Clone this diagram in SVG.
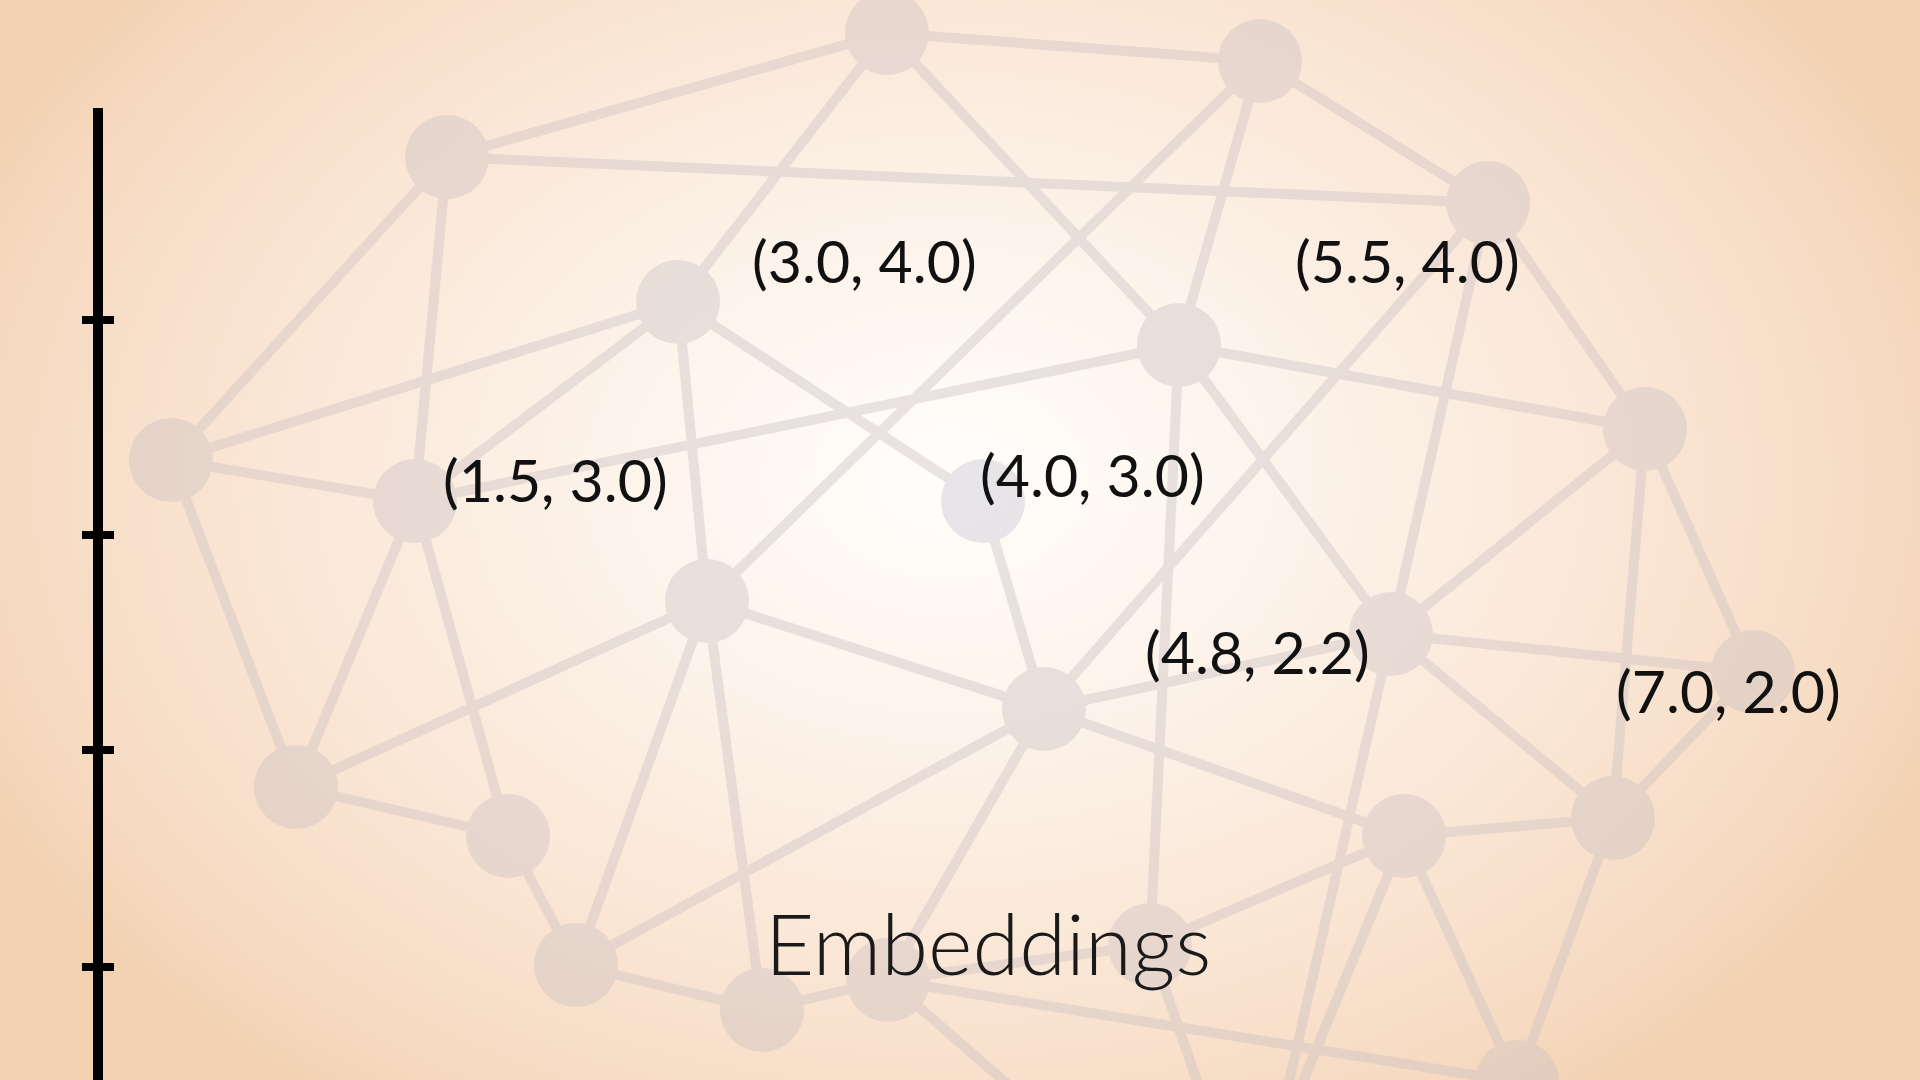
<svg xmlns="http://www.w3.org/2000/svg" width="1920" height="1080" viewBox="0 0 1920 1080">
<defs>
<radialGradient id="bg" gradientUnits="userSpaceOnUse" cx="0" cy="0" r="1060" gradientTransform="translate(950 480) scale(1 0.72)">
<stop offset="0" stop-color="#fffefc"/>
<stop offset="0.3" stop-color="#fdf4ec"/>
<stop offset="0.65" stop-color="#fae6d5"/>
<stop offset="0.9" stop-color="#f6dac1"/>
<stop offset="1" stop-color="#f3d2b3"/>
</radialGradient>
<style>
.edge{stroke:#cdc2c4;stroke-width:10;stroke-linecap:butt;fill:none}
.node circle{fill:#cdc2c4}
.lbl{font-family:Lato,"Open Sans","Liberation Sans",sans-serif;font-size:59px;fill:#111}
.title{font-family:Lato,"Open Sans","Liberation Sans",sans-serif;font-weight:300;font-size:85px;fill:#1a1a1a}
.axis{stroke:#000;fill:none}
</style>
</defs>
<rect x="0" y="0" width="1920" height="1080" fill="url(#bg)"/>
<g id="network" opacity="0.42">
<g id="connectors">
<line class="edge" x1="887" y1="33" x2="447" y2="157"/>
<line class="edge" x1="887" y1="33" x2="1260" y2="61"/>
<line class="edge" x1="887" y1="33" x2="678" y2="302"/>
<line class="edge" x1="887" y1="33" x2="1179" y2="345"/>
<line class="edge" x1="1260" y1="61" x2="1488" y2="203"/>
<line class="edge" x1="1260" y1="61" x2="1179" y2="345"/>
<line class="edge" x1="1260" y1="61" x2="707" y2="601"/>
<line class="edge" x1="447" y1="157" x2="1488" y2="203"/>
<line class="edge" x1="447" y1="157" x2="171" y2="460"/>
<line class="edge" x1="447" y1="157" x2="415" y2="501"/>
<line class="edge" x1="1488" y1="203" x2="1645" y2="429"/>
<line class="edge" x1="1488" y1="203" x2="1391" y2="634"/>
<line class="edge" x1="1488" y1="203" x2="1044" y2="709"/>
<line class="edge" x1="678" y1="302" x2="171" y2="460"/>
<line class="edge" x1="678" y1="302" x2="415" y2="501"/>
<line class="edge" x1="678" y1="302" x2="707" y2="601"/>
<line class="edge" x1="678" y1="302" x2="983" y2="501"/>
<line class="edge" x1="1179" y1="345" x2="415" y2="501"/>
<line class="edge" x1="1179" y1="345" x2="1645" y2="429"/>
<line class="edge" x1="1179" y1="345" x2="1391" y2="634"/>
<line class="edge" x1="1179" y1="345" x2="1150" y2="945"/>
<line class="edge" x1="171" y1="460" x2="415" y2="501"/>
<line class="edge" x1="171" y1="460" x2="296" y2="787"/>
<line class="edge" x1="415" y1="501" x2="296" y2="787"/>
<line class="edge" x1="415" y1="501" x2="508" y2="836"/>
<line class="edge" x1="983" y1="501" x2="1044" y2="709"/>
<line class="edge" x1="1645" y1="429" x2="1391" y2="634"/>
<line class="edge" x1="1645" y1="429" x2="1613" y2="818"/>
<line class="edge" x1="1645" y1="429" x2="1753" y2="672"/>
<line class="edge" x1="707" y1="601" x2="1044" y2="709"/>
<line class="edge" x1="707" y1="601" x2="296" y2="787"/>
<line class="edge" x1="707" y1="601" x2="576" y2="965"/>
<line class="edge" x1="707" y1="601" x2="762" y2="1010"/>
<line class="edge" x1="1391" y1="634" x2="1753" y2="672"/>
<line class="edge" x1="1391" y1="634" x2="1613" y2="818"/>
<line class="edge" x1="1391" y1="634" x2="1044" y2="709"/>
<line class="edge" x1="1391" y1="634" x2="1278" y2="1130"/>
<line class="edge" x1="1753" y1="672" x2="1613" y2="818"/>
<line class="edge" x1="1044" y1="709" x2="576" y2="965"/>
<line class="edge" x1="1044" y1="709" x2="888" y2="980"/>
<line class="edge" x1="1044" y1="709" x2="1404" y2="836"/>
<line class="edge" x1="296" y1="787" x2="508" y2="836"/>
<line class="edge" x1="508" y1="836" x2="576" y2="965"/>
<line class="edge" x1="1404" y1="836" x2="1613" y2="818"/>
<line class="edge" x1="1404" y1="836" x2="1150" y2="945"/>
<line class="edge" x1="1404" y1="836" x2="1517" y2="1082"/>
<line class="edge" x1="1404" y1="836" x2="1283" y2="1130"/>
<line class="edge" x1="1613" y1="818" x2="1517" y2="1082"/>
<line class="edge" x1="576" y1="965" x2="762" y2="1010"/>
<line class="edge" x1="762" y1="1010" x2="888" y2="980"/>
<line class="edge" x1="888" y1="980" x2="1150" y2="945"/>
<line class="edge" x1="888" y1="980" x2="1517" y2="1082"/>
<line class="edge" x1="888" y1="980" x2="1060" y2="1130"/>
<line class="edge" x1="1150" y1="945" x2="1214" y2="1130"/>
</g>
<g id="node-a" class="node"><circle cx="887" cy="33" r="42"/></g>
<g id="node-b" class="node"><circle cx="1260" cy="61" r="42"/></g>
<g id="node-c" class="node"><circle cx="447" cy="157" r="42"/></g>
<g id="node-d" class="node"><circle cx="1488" cy="203" r="42"/></g>
<g id="node-e" class="node"><circle cx="678" cy="302" r="42"/></g>
<g id="node-f" class="node"><circle cx="1179" cy="345" r="42"/></g>
<g id="node-g" class="node"><circle cx="171" cy="460" r="42"/></g>
<g id="node-h" class="node"><circle cx="415" cy="501" r="42"/></g>
<g id="node-i" class="node"><circle cx="983" cy="501" r="42" style="fill:#c9c5d2"/></g>
<g id="node-j" class="node"><circle cx="1645" cy="429" r="42"/></g>
<g id="node-k" class="node"><circle cx="707" cy="601" r="42"/></g>
<g id="node-l" class="node"><circle cx="1391" cy="634" r="42"/></g>
<g id="node-m" class="node"><circle cx="1753" cy="672" r="42"/></g>
<g id="node-n" class="node"><circle cx="1044" cy="709" r="42"/></g>
<g id="node-o" class="node"><circle cx="296" cy="787" r="42"/></g>
<g id="node-p" class="node"><circle cx="508" cy="836" r="42"/></g>
<g id="node-q" class="node"><circle cx="1404" cy="836" r="42"/></g>
<g id="node-r" class="node"><circle cx="1613" cy="818" r="42"/></g>
<g id="node-s" class="node"><circle cx="576" cy="965" r="42"/></g>
<g id="node-t" class="node"><circle cx="762" cy="1010" r="42"/></g>
<g id="node-u" class="node"><circle cx="888" cy="980" r="42"/></g>
<g id="node-v" class="node"><circle cx="1150" cy="945" r="42"/></g>
<g id="node-w" class="node"><circle cx="1517" cy="1082" r="42"/></g>
</g>
<g id="axis">
<line class="axis" x1="98" y1="108" x2="98" y2="1080" stroke-width="10"/>
<line class="axis" x1="82" y1="320" x2="114" y2="320" stroke-width="8"/>
<line class="axis" x1="82" y1="535" x2="114" y2="535" stroke-width="8"/>
<line class="axis" x1="82" y1="750" x2="114" y2="750" stroke-width="8"/>
<line class="axis" x1="82" y1="967" x2="114" y2="967" stroke-width="8"/>
</g>
<g id="labels">
<text class="lbl" x="752" y="283">(3.0, 4.0)</text>
<text class="lbl" x="1295" y="283">(5.5, 4.0)</text>
<text class="lbl" x="443" y="502">(1.5, 3.0)</text>
<text class="lbl" x="980" y="497">(4.0, 3.0)</text>
<text class="lbl" x="1145" y="674">(4.8, 2.2)</text>
<text class="lbl" x="1616" y="713">(7.0, 2.0)</text>
<text class="title" x="765" y="975">Embeddings</text>
</g>
</svg>
